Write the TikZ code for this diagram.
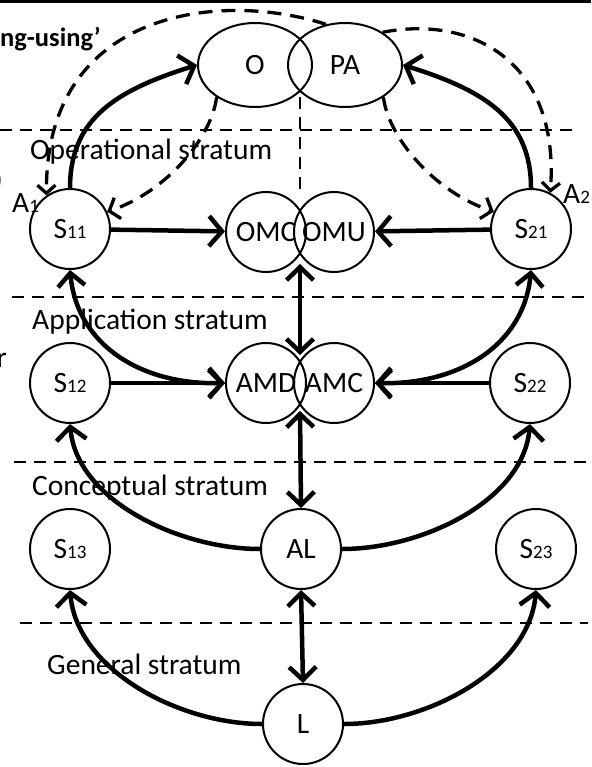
\documentclass[tikz,border=0pt]{standalone}
\usepackage{fontspec}
\setmainfont{Carlito}
\usetikzlibrary{arrows.meta,shapes.geometric,calc}
\newcommand\sbx[1]{{\fontsize{19}{19}\selectfont #1}}
\begin{document}
\begin{tikzpicture}[x=1pt,y=1pt,
  txt/.style={font=\fontsize{29.5}{32}\selectfont, inner sep=0},
  bub/.style={circle, draw, line width=2pt, minimum size=80pt, inner sep=0,
    font=\fontsize{29.5}{32}\selectfont},
  oval/.style={ellipse, draw, line width=2pt, minimum width=114pt, minimum height=84pt,
    inner sep=0, font=\fontsize{29.5}{32}\selectfont},
  sep/.style={line width=2.5pt, dash pattern=on 12pt off 8pt},
  arr/.style={line width=4.5pt, -{Straight Barb[length=13pt,width=30pt]}},
  dbl/.style={line width=4.5pt, {Straight Barb[length=13pt,width=27pt]}-{Straight Barb[length=13pt,width=27pt]}},
  darr/.style={line width=3.3pt, dash pattern=on 14pt off 9pt,
    -{Straight Barb[length=9pt,width=22pt]}},
  darrs/.style={darr, -{Straight Barb[length=8pt,width=18pt]}}]
\useasboundingbox (0,0) rectangle (591,-767);

% frame rule along the top edge
\draw[line width=2.8pt] (0,-1.4) -- (591,-1.4);

% stratum separators
\draw[sep] (0,-130) -- (578,-130);
\draw[sep] (12,-297) -- (591,-297);
\draw[sep] (14,-462) -- (588,-462);
\draw[sep] (20,-623) -- (588,-623);

% stratum names
\node[txt, anchor=base west] (sOp) at (30,-160) {Operational stratum};
\node[txt, anchor=base west] (sAp) at (32,-329) {Application stratum};
\node[txt, anchor=base west] (sCo) at (32,-495) {Conceptual stratum};
\node[txt, anchor=base west] (sGe) at (47,-674) {General stratum};

% fragments of text at the edges
\node[font=\bfseries\fontsize{26.5}{30}\selectfont, inner sep=0, anchor=base east] (hdr) at (101,-47) {ng-using’};
\node[txt, anchor=base east] (par) at (3,-190) {)};
\node[txt, anchor=base east] (rr) at (7,-367) {r};

% nodes
\node[oval] (O) at (255,-65) {O};
\node[oval] (PA) at (345,-65) {PA};

\node[bub] (S11) at (70,-229) {S\sbx{11}};
\node[bub] (S21) at (531,-229) {S\sbx{21}};
\node[bub] (OMC) at (266,-232) {OMC};
\node[bub] (OMU) at (334,-232) {OMU};

\node[bub] (S12) at (70,-383) {S\sbx{12}};
\node[bub] (AMD) at (266,-383) {AMD};
\node[bub] (AMC) at (334,-383) {AMC};
\node[bub] (S22) at (530,-383) {S\sbx{22}};

\node[bub] (S13) at (70,-549) {S\sbx{13}};
\node[bub] (AL) at (301,-549) {AL};
\node[bub] (S23) at (536,-549) {S\sbx{23}};

\node[bub] (L) at (303,-724) {L};

\node[txt, anchor=base west] (A1) at (12,-212) {A\sbx{1}};
\node[txt, anchor=base west] (A2) at (563,-204) {A\sbx{2}};

% helper points between paired shapes
\path (O) -- (PA) coordinate[midway] (mOP);
\path (OMC) -- (OMU) coordinate[midway] (mOM);
\path (AMD) -- (AMC) coordinate[midway] (mAM);

% vertical dashed divider
\draw[sep] ([yshift=-32pt]mOP) -- ([yshift=36pt]mOM);

% operational links
\draw[arr] (S11.north) .. controls +(0,70) and +(-80,-25) .. (O.west);
\draw[arr] (S21.north) .. controls +(0,70) and +(80,-25) .. (PA.east);
\draw[darr] (O.-140) .. controls +(-5,-40) and +(60,20) .. (S11.25);
\draw[darr] (PA.-40) .. controls +(5,-40) and +(-60,20) .. (S21.155);
\draw[darrs] (PA.115) .. controls (220,10) and (45,-10) .. (S11.125);
\draw[darrs] (PA.41) .. controls (470,-15) and (560,-60) .. (S21.62);

\draw[arr] (S11) -- (OMC);
\draw[arr] (S21) -- (OMU);
\draw[dbl] ([yshift=-32pt]mOM) -- ([yshift=28pt]mAM);

% application links
\draw[dbl] (S11.south) .. controls +(7,-75) and +(-84,-2) .. (AMD.west);
\draw[arr] (S12) -- (AMD);
\draw[dbl] (S21.south) .. controls +(-7,-75) and +(84,-2) .. (AMC.east);
\draw[arr] (S22) -- (AMC);
\draw[dbl] ([yshift=-28pt]mAM) -- (AL.north);

% conceptual links
\draw[arr] (AL.west) .. controls +(-80,0) and +(7,-77) .. (S12.south);
\draw[arr] (AL.east) .. controls +(80,0) and +(-7,-77) .. (S22.south);
\draw[dbl] (AL.south) -- (L.north);

% general links
\draw[arr] (L.west) .. controls +(-83,0) and +(7,-80) .. (S13.south);
\draw[arr] (L.east) .. controls +(83,0) and +(-7,-80) .. (S23.south);
\end{tikzpicture}
\end{document}
